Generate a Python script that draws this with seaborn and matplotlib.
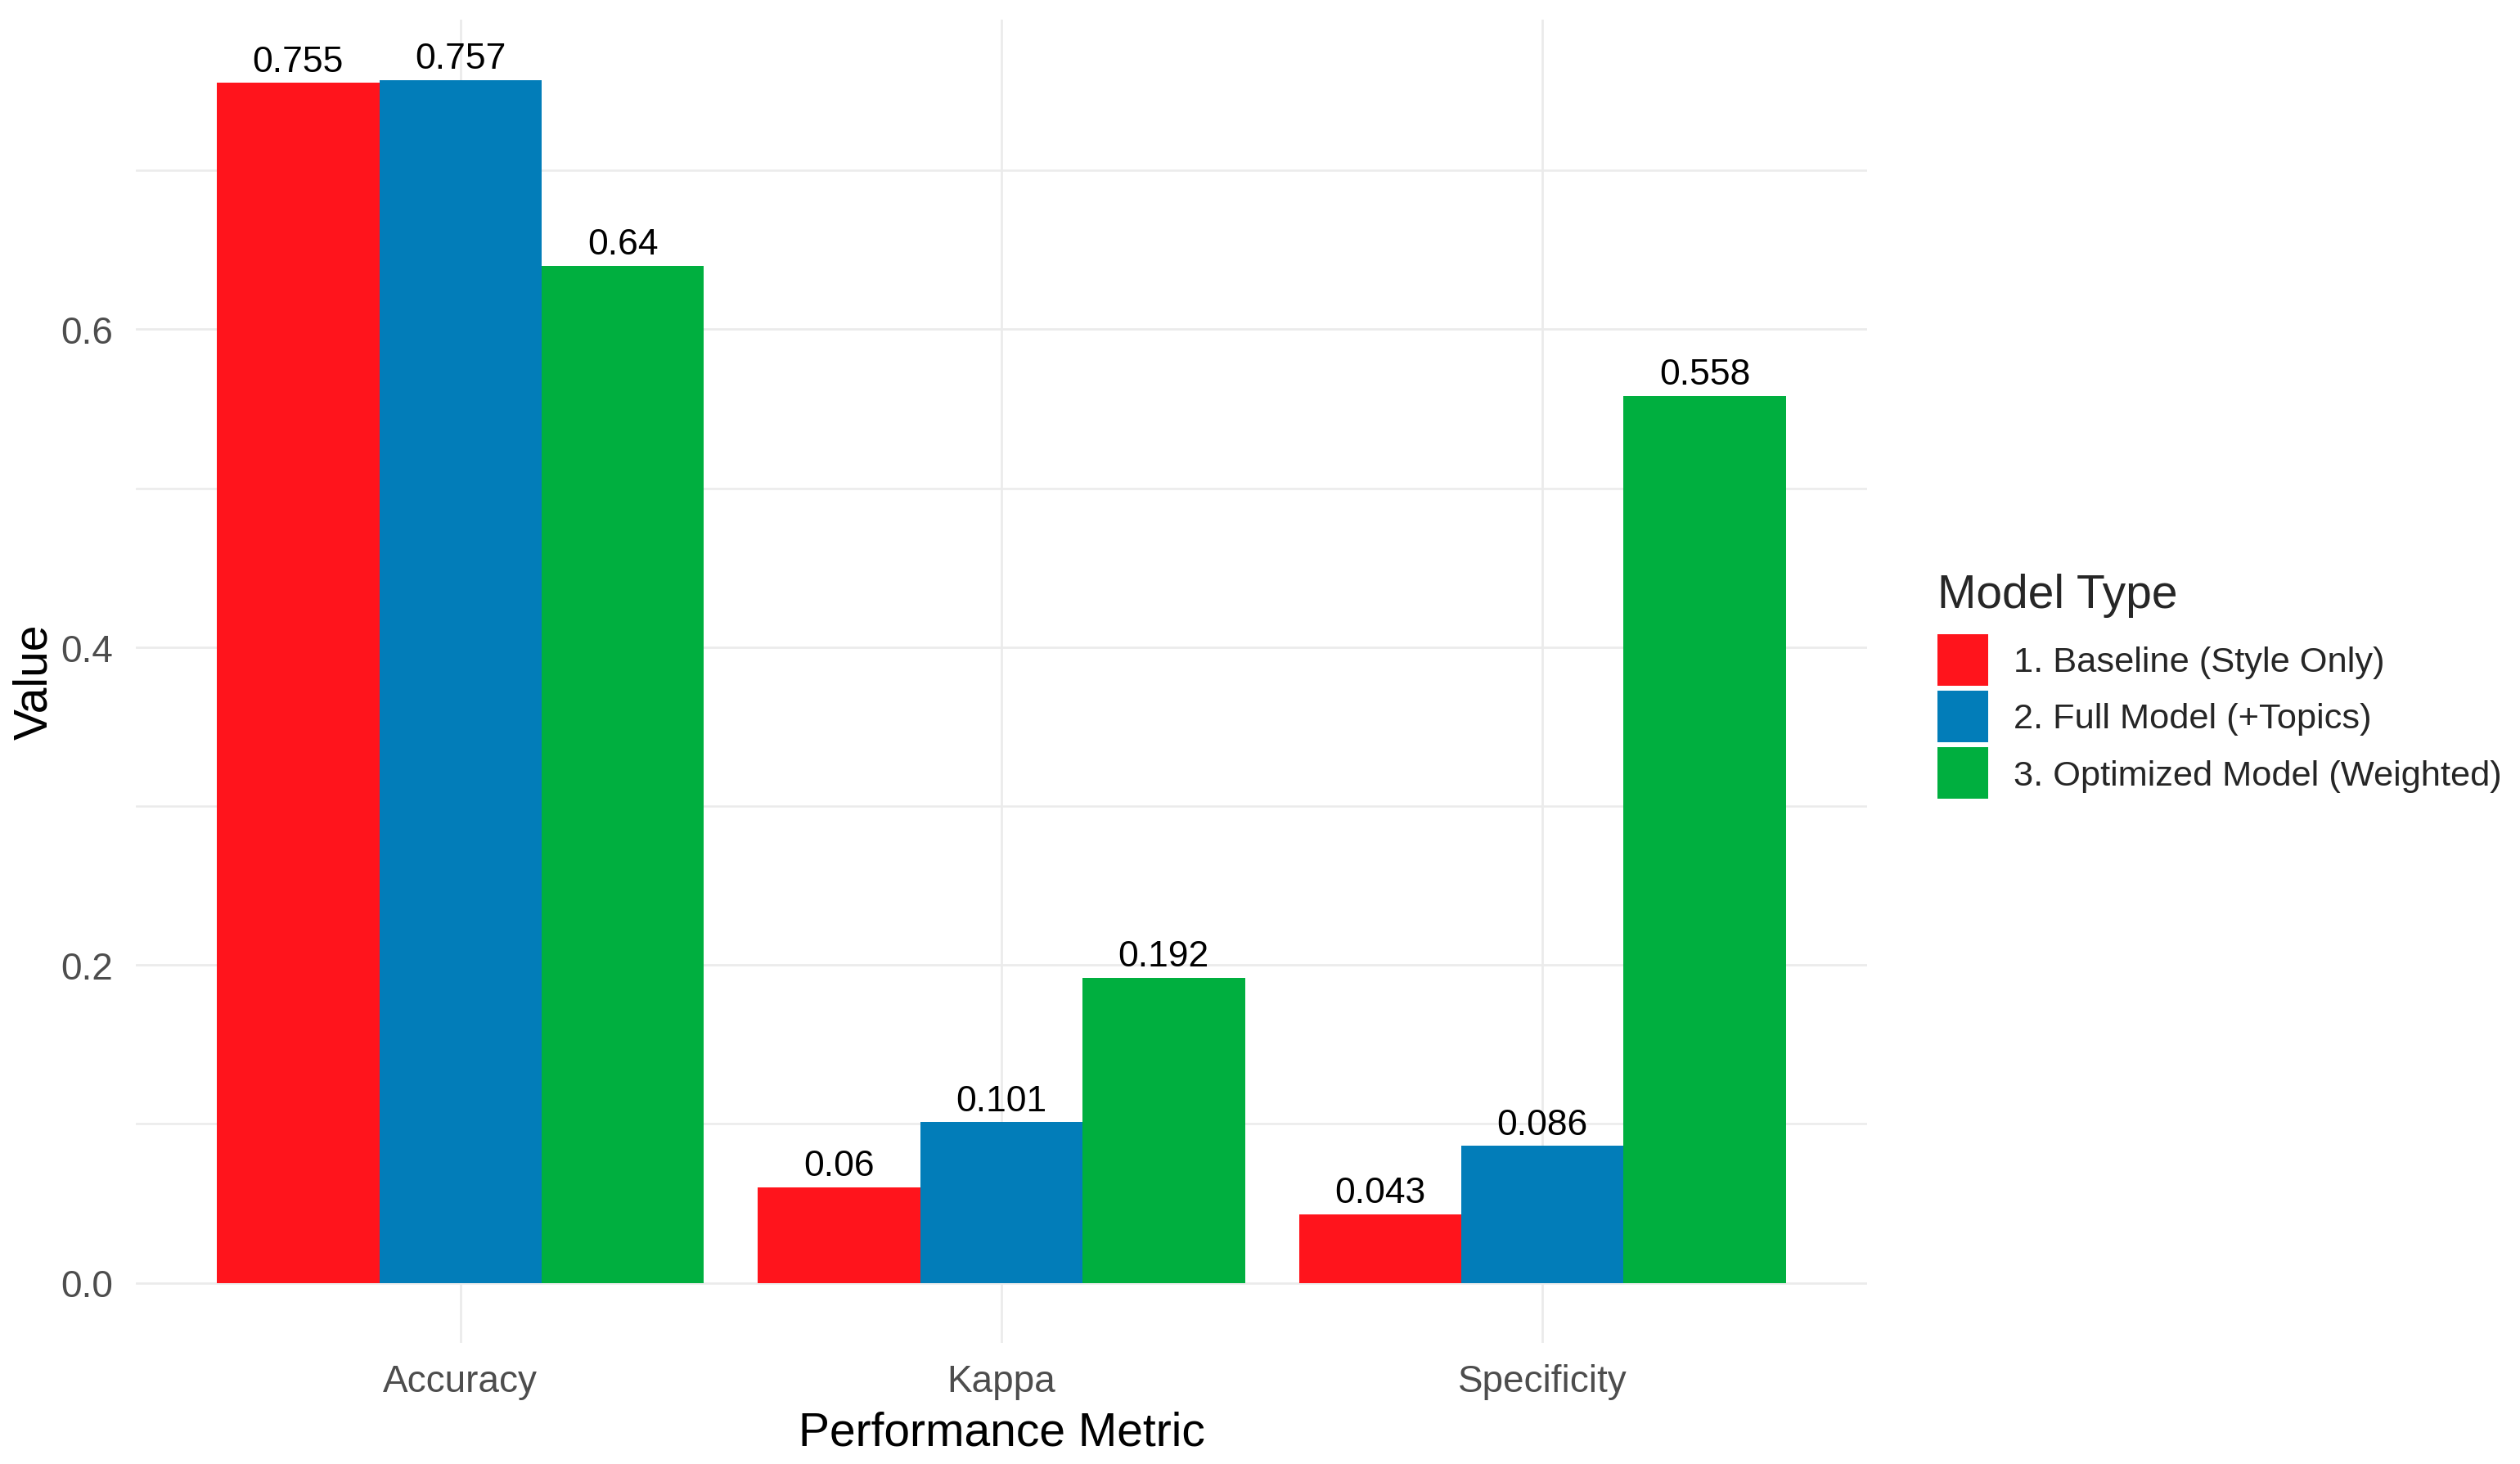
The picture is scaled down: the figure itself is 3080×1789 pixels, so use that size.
import pandas as pd
import matplotlib.pyplot as plt
import seaborn as sns

metrics = ["Accuracy", "Kappa", "Specificity"]
models = ["1. Baseline (Style Only)", "2. Full Model (+Topics)", "3. Optimized Model (Weighted)"]
baseline = [0.755, 0.060, 0.043]
full_model = [0.757, 0.101, 0.086]
optimized = [0.640, 0.192, 0.558]
colors = ["#FF141C", "#027DB9", "#00AF3F"]

rows = []
for model, vals in zip(models, [baseline, full_model, optimized]):
    for m, v in zip(metrics, vals):
        rows.append({"Metric": m, "Value": v, "Model": model})
df = pd.DataFrame(rows)

sns.set_theme(style="white")
plt.rcParams["font.family"] = ["Liberation Sans", "DejaVu Sans"]

fig = plt.figure(figsize=(15.4, 8.95), dpi=200)
ax = fig.add_axes([166 / 3080, 1 - 1642 / 1790, (2282 - 166) / 3080, (1642 - 25) / 1790])

sns.barplot(data=df, x="Metric", y="Value", hue="Model", order=metrics, hue_order=models,
            palette=colors, width=0.9, saturation=1, linewidth=0, errorbar=None, ax=ax, zorder=3)

for cont in ax.containers:
    ax.bar_label(cont, labels=[f"{b.get_height():g}" for b in cont], padding=2,
                 fontsize=16, color="black", zorder=4)

# ggplot-like limits: 5% expansion on y, 0.6 on discrete x
vmax = df["Value"].max()
ax.set_ylim(-0.05 * vmax, 1.05 * vmax)
ax.set_xlim(-0.6, len(metrics) - 0.4)

ax.set_yticks([0.0, 0.2, 0.4, 0.6])
ax.set_yticks([0.1, 0.3, 0.5, 0.7], minor=True)
ax.set_yticklabels(["0.0", "0.2", "0.4", "0.6"])
ax.grid(True, which="major", axis="both", color="#EBEBEB", linewidth=1.0, zorder=0)
ax.grid(True, which="minor", axis="y", color="#EBEBEB", linewidth=0.9, zorder=0)
ax.set_axisbelow(True)
for s in ax.spines.values():
    s.set_visible(False)
ax.tick_params(axis="both", which="both", length=0, labelsize=16.5, labelcolor="#4D4D4D")
ax.tick_params(axis="x", pad=9)
ax.tick_params(axis="y", pad=10)

ax.set_xlabel("Performance Metric", fontsize=20.5, color="black", labelpad=5)
ax.set_ylabel("Value", fontsize=20.5, color="black", labelpad=2)

leg = ax.get_legend()
handles = leg.legend_handles
leg.remove()
leg = fig.legend(handles, models, title="Model Type", loc="upper left",
                 bbox_to_anchor=(2368 / 3080, 1 - 701 / 1790), bbox_transform=fig.transFigure,
                 frameon=False, borderpad=0, borderaxespad=0, fontsize=15.6, title_fontsize=20.5,
                 handlelength=1.42, handleheight=1.85, labelspacing=0.15, handletextpad=0.72,
                 alignment="left")
# a bit more room between the title and the keys, as in ggplot
leg._legend_box.sep = 7.5

fig.savefig("out.png", dpi=200, facecolor="white")
